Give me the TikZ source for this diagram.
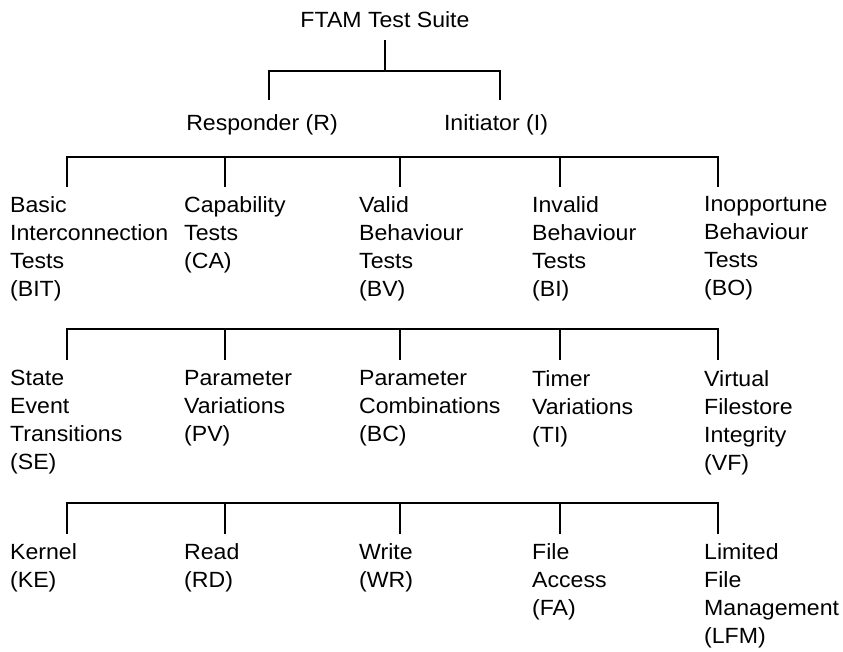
\documentclass[tikz,border=0pt]{standalone}
\usepackage{fontspec}
\setmainfont[FakeStretch=1.05]{Liberation Sans}
\begin{document}
\begin{tikzpicture}[x=1pt,y=-1pt,
  lbl/.style={anchor=north west, align=left, inner sep=0pt, font=\fontsize{22}{28}\selectfont, execute at begin node={\strut}},
  ctr/.style={anchor=base, inner sep=0pt, font=\fontsize{22}{28}\selectfont},
  conn/.style={line width=1.6pt, line cap=rect}]
\useasboundingbox (0,0) rectangle (843,652);
% top
\node[ctr] (root) at (385,28) {FTAM Test Suite};
\node[ctr] (resp) at (262,131) {Responder (R)};
\node[ctr] (init) at (496,131) {Initiator (I)};
\coordinate (rootstem) at (385,41);
\coordinate (rootbus) at (385,71);
\coordinate (respT) at (269,99);
\coordinate (initT) at (500,99);
\draw[conn] (rootstem) -- (rootbus);
\draw[conn] (respT) |- (rootbus) -| (initT);
% level 1 (first baseline 216)
\node[lbl] (bit) at (10,196.4) {Basic\\Interconnection\\Tests\\(BIT)};
\node[lbl] (ca) at (184,196.4) {Capability\\Tests\\(CA)};
\node[lbl] (bv) at (359,196.4) {Valid\\Behaviour\\Tests\\(BV)};
\node[lbl] (bi) at (532,196.4) {Invalid\\Behaviour\\Tests\\(BI)};
\node[lbl] (bo) at (704,196.4) {Inopportune\\Behaviour\\Tests\\(BO)};
\foreach \n/\x in {bit/67,ca/225,bv/400,bi/560,bo/718}{
  \coordinate (\n T) at (\x,186);
  \coordinate (\n B) at (\x,157);
}
\draw[conn] (bitB) -- (boB);
\foreach \n in {bit,ca,bv,bi,bo}{ \draw[conn] (\n B) -- (\n T); }
% level 2 (first baseline 390)
\node[lbl] (se) at (10,370.4) {State\\Event\\Transitions\\(SE)};
\node[lbl] (pv) at (184,370.4) {Parameter\\Variations\\(PV)};
\node[lbl] (bc) at (359,370.4) {Parameter\\Combinations\\(BC)};
\node[lbl] (ti) at (532,370.4) {Timer\\Variations\\(TI)};
\node[lbl] (vf) at (704,370.4) {Virtual\\Filestore\\Integrity\\(VF)};
\foreach \n/\x in {se/67,pv/225,bc/400,ti/560,vf/718}{
  \coordinate (\n T) at (\x,359);
  \coordinate (\n B) at (\x,329);
}
\draw[conn] (seB) -- (vfB);
\foreach \n in {se,pv,bc,ti,vf}{ \draw[conn] (\n B) -- (\n T); }
% level 3 (first baseline 563)
\node[lbl] (ke) at (10,543.4) {Kernel\\(KE)};
\node[lbl] (rd) at (184,543.4) {Read\\(RD)};
\node[lbl] (wr) at (359,543.4) {Write\\(WR)};
\node[lbl] (fa) at (532,543.4) {File\\Access\\(FA)};
\node[lbl] (lfm) at (704,543.4) {Limited\\File\\Management\\(LFM)};
\foreach \n/\x in {ke/67,rd/225,wr/400,fa/560,lfm/718}{
  \coordinate (\n T) at (\x,533);
  \coordinate (\n B) at (\x,503);
}
\draw[conn] (keB) -- (lfmB);
\foreach \n in {ke,rd,wr,fa,lfm}{ \draw[conn] (\n B) -- (\n T); }
\end{tikzpicture}
\end{document}
